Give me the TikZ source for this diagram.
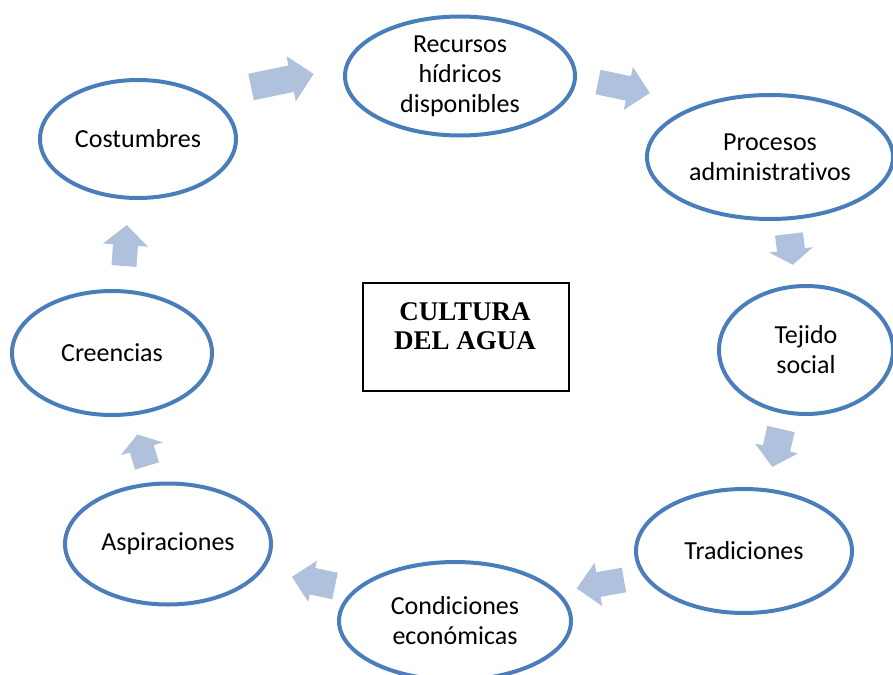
\documentclass[tikz,border=0pt]{standalone}
\usepackage{fontspec}
\usetikzlibrary{shapes.geometric}
\setmainfont[Ligatures=NoCommon]{Carlito}
\newfontfamily\boxfont{Liberation Serif}
\definecolor{ellblue}{RGB}{74,126,187}
\definecolor{arrfill}{RGB}{176,193,221}
\newcommand{\blockarr}[6]{%
  \begin{scope}[shift={(#1)},rotate=#2]
    \fill[arrfill] (0,-#4/2) -- ({#3-#6},-#4/2) -- ({#3-#6},-#5/2) -- (#3,0)
      -- ({#3-#6},#5/2) -- ({#3-#6},#4/2) -- (0,#4/2) -- cycle;
  \end{scope}}
\begin{document}
\begin{tikzpicture}[x=1pt,y=-1pt,
  ell/.style={draw=ellblue,line width=4pt,ellipse,inner sep=0pt,align=center,
    font=\fontsize{26}{30}\selectfont},
  centerbox/.style={draw=black,line width=1.2pt,minimum width=206pt,minimum height=108pt,inner sep=0pt}]
\useasboundingbox (0,0) rectangle (893,674);
\node[ell,minimum width=196pt,minimum height=118pt] (cos) at (138,139) {Costumbres};
\node[ell,minimum width=230pt,minimum height=119pt] (rec) at (460,76) {Recursos\\hídricos\\disponibles};
\node[ell,minimum width=246pt,minimum height=124pt] (pro) at (770,157) {Procesos\\administrativos};
\node[ell,minimum width=174pt,minimum height=128pt] (tej) at (806,350) {Tejido\\social};
\node[ell,minimum width=216pt,minimum height=124pt] (tra) at (744,551) {Tradiciones};
\node[ell,minimum width=232pt,minimum height=118pt] (con) at (455,621) {Condiciones\\económicas};
\node[ell,minimum width=206pt,minimum height=121pt] (asp) at (168,544) {Aspiraciones};
\node[ell,minimum width=200pt,minimum height=124pt] (cre) at (112,353) {Creencias};
\node[centerbox] (box) at (466,337) {};
\node[align=center,font=\boxfont\bfseries\fontsize{27}{29.5}\selectfont,inner sep=0pt] (title) at (465,326) {CULTURA\\DEL AGUA};
\blockarr{251,87}{11.7}{64}{27}{46}{23}
\blockarr{598,82}{-12}{53}{25}{44}{22}
\blockarr{789,234}{-83}{31}{28}{44}{15}
\blockarr{781,429}{-103}{39}{28}{44}{19}
\blockarr{624,580}{190}{48}{25}{44}{22}
\blockarr{335,586}{168}{44}{27}{42}{21}
\blockarr{147,466}{107}{33}{25}{44}{15}
\blockarr{124,266}{86}{41}{25}{45}{20}
\end{tikzpicture}
\end{document}
